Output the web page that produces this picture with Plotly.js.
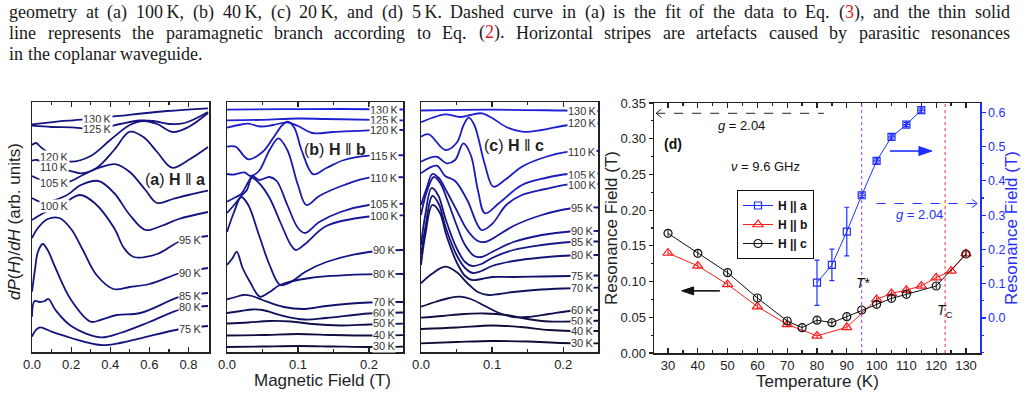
<!DOCTYPE html>
<html><head><meta charset="utf-8">
<script src="https://cdn.plot.ly/plotly-3.0.1.min.js"></script>
<style>html,body{margin:0;padding:0;background:#fff}#chart{width:1027px;height:420px}</style>
</head><body><div id="chart"></div>
<script>
// ---------- (a) H || a : field (T) and dP/dH signal (arb. units) ----------
const a130H=[0,0.18,0.33,0.52,0.69,0.9], a130S=[227.7,231.3,233.7,237.7,241,243.7];
const a125H=[0,0.1,0.2,0.33,0.45,0.55,0.62,0.7,0.78,0.9], a125S=[226.3,225,224.7,223,228,231.5,231,228,229,240];
const a120H=[0,0.02,0.05,0.12,0.2,0.3,0.4,0.5,0.57,0.64,0.72,0.8,0.9], a120S=[207,209,204,195,190.3,196,212,227,231,228,220,225,239];
const a110H=[0,0.024,0.1,0.21,0.25,0.33,0.42,0.5,0.57,0.64,0.716,0.8,0.9], a110S=[191.3,192,186,180.3,178.7,184,202,220.3,215,200,184.3,192,205];
const a105H=[0,0.05,0.18,0.26,0.34,0.43,0.5,0.58,0.64,0.72,0.8,0.9], a105S=[176,172,169.7,177,184,187.7,180,162,149,153,157,161.3];
const a100H=[0,0.05,0.17,0.25,0.34,0.42,0.5,0.58,0.66,0.75,0.9], a100S=[154,150,156,167,171,159,137,122,126,133,140];
const a95H=[0,0.05,0.15,0.246,0.32,0.42,0.47,0.52,0.64,0.76,0.9], a95S=[132,138,147,157,149,124,104,95,98,111,116];
const a90H=[0,0.03,0.08,0.14,0.2,0.26,0.33,0.417,0.5,0.6,0.76,0.9], a90S=[114,124,133,134,123,102,77,63,65,68,79,84];
const a85H=[0,0.015,0.03,0.055,0.08,0.12,0.2,0.3,0.35,0.434,0.554,0.76,0.9], a85S=[60.3,82,100,108,102,84,52,30.3,32,37,39,55.3,59];
const a80H=[0,0.013,0.04,0.065,0.084,0.12,0.2,0.35,0.45,0.6,0.76,0.9], a80S=[35.3,51,50,51,53,42,26,14.7,19,30,42.7,46];
const a75H=[0,0.02,0.041,0.1,0.2,0.35,0.45,0.554,0.76,0.9], a75S=[15.3,22,24.7,20.3,14,7,9,13.7,23,26];

// ---------- (b) H || b ----------
const b130H=[0,0.08,0.16,0.25], b130S=[242.3,242.8,243,242.5];
const b125H=[0,0.05,0.1,0.14,0.25], b125S=[231.7,232.2,233.5,233,231.7];
const b120H=[0,0.02,0.03,0.047,0.065,0.085,0.1,0.12,0.15,0.2,0.25], b120S=[224.3,227.5,228.3,225.5,227,229.7,226,219,220,221.7,222];
const b115H=[0,0.012,0.03,0.05,0.065,0.078,0.0857,0.095,0.105,0.1216,0.14,0.165,0.2,0.25], b115S=[205.3,205.3,192.7,200,214,227,230.3,224,202,177.7,184,192,196.3,196.7];
const b110H=[0,0.01,0.025,0.033,0.045,0.06,0.0725,0.085,0.1,0.112,0.13,0.165,0.2,0.25], b110S=[178,177.5,179.5,176,181,202,213.7,202,167,147,156,167,174.3,174.7];
const b105H=[0,0.01,0.02,0.03,0.036,0.045,0.06,0.07,0.085,0.1,0.11,0.13,0.16,0.2,0.25], b105S=[150.3,154,158,170,176,172,175,171,147,124,119,130,140,147,148];
const b100H=[0,0.01,0.02,0.028,0.035,0.045,0.06,0.075,0.09,0.097,0.11,0.14,0.2,0.25], b100S=[139,147,156,162,174,169,154,130,107,102,108,126,135.5,136.5];
const b90H=[0,0.01,0.02,0.03,0.045,0.06,0.075,0.09,0.11,0.14,0.2,0.25], b90S=[120,140,155,147,117,87,67,70,80,90,100,102];
const b80H=[0,0.008,0.0137,0.022,0.0324,0.0465,0.06,0.0746,0.117,0.2,0.25], b80S=[87,94,100.3,84,70,55.3,60,67,74,77.7,78];
const b70H=[0,0.012,0.023,0.035,0.05,0.08,0.11,0.14,0.2,0.25], b70S=[52.7,55,57,56,52,45,43,46,49.5,50];
const b60H=[0,0.02,0.035,0.05,0.08,0.11,0.14,0.2,0.25], b60S=[39,41,42.5,42,36,32.5,34,38.5,39.5];
const b50H=[0,0.03,0.06,0.09,0.12,0.16,0.2,0.25], b50S=[28.5,29.5,31,30.5,28,26.5,27.5,28.5];
const b40H=[0,0.05,0.1,0.15,0.2,0.25], b40S=[16.5,17,18,17,16.5,17];
const b30H=[0,0.05,0.1,0.15,0.2,0.25], b30S=[5,5.5,6,5.5,5,5.5];

// ---------- (c) H || c ----------
const c130H=[0,0.1,0.2,0.25], c130S=[241.5,242.3,241.5,241];
const c120H=[0,0.015,0.034,0.055,0.07,0.0854,0.1,0.12,0.142,0.17,0.2075,0.25], c120S=[229.7,234,237.7,235,237,238.7,234,225,220.3,222,227,228.5];
const c110H=[0,0.011,0.034,0.05,0.06,0.067,0.075,0.09,0.1018,0.118,0.142,0.175,0.2075,0.25], c110S=[215.3,217.7,202,209,227,234.3,227,187,165.3,172,185.3,195,200.3,201];
const c105H=[0,0.0216,0.036,0.048,0.0596,0.07,0.08,0.0901,0.11,0.142,0.175,0.2075,0.25], c105S=[190.3,195.3,188.7,192,208.7,197,162,138.7,149,167,174,178,178.5];
const c100H=[0,0.022,0.034,0.048,0.065,0.0854,0.1,0.12,0.142,0.175,0.2075,0.25], c100S=[178.7,186.3,176,171,152,122,128,147,157,163,167.7,168];
const c95H=[0,0.008,0.016,0.025,0.035,0.05,0.065,0.08,0.09,0.1,0.13,0.17,0.21,0.25], c95S=[147,164,178,174,162,142,122,111,110,113,126,137,143.5,144.5];
const c90H=[0,0.008,0.018,0.027,0.037,0.05,0.062,0.075,0.085,0.1,0.13,0.17,0.21,0.25], c90S=[137,160,175,169,152,127,107,96,95,100,110,117,120.5,121];
const c85H=[0,0.006,0.015,0.024,0.035,0.05,0.062,0.072,0.085,0.1,0.13,0.17,0.21,0.25], c85S=[107,137,164,157,132,104,90,86,88,94,102,107,110,110.5];
const c80H=[0,0.006,0.016,0.025,0.035,0.05,0.062,0.073,0.085,0.1,0.13,0.17,0.21,0.25], c80S=[97,124,156,148,124,97,84,79,81,86,91,94.5,96.5,97];
const c75H=[0,0.006,0.016,0.026,0.036,0.05,0.062,0.072,0.085,0.1,0.13,0.17,0.21,0.25], c75S=[87,117,147,140,116,90,76,72,73,75,75,75.5,76,76.5];
const c70H=[0,0.015,0.034,0.05,0.065,0.08,0.095,0.11,0.13,0.16,0.2,0.25], c70S=[68.7,78,85.3,80,69,60,57,58,60,62,63.5,64.3];
const c60H=[0,0.02,0.04,0.055,0.07,0.09,0.11,0.13,0.15,0.18,0.21,0.25], c60S=[45.3,50,54,55.3,53,46,39,35,35,38,41,42];
const c50H=[0,0.03,0.06,0.09,0.12,0.15,0.18,0.21,0.25], c50S=[34.3,36,38,38.5,37,33,30.5,30.5,31.3];
const c40H=[0,0.05,0.1,0.14,0.18,0.21,0.25], c40S=[23,24.5,26.5,25,22,21,21];
const c30H=[0,0.05,0.1,0.15,0.2,0.25], c30S=[8.7,10,11,10.5,9,8.7];

// ---------- (d) resonance field vs temperature ----------
const tempA=[80,85,90,95,100,105,110,115];
const fieldA=[0.103,0.155,0.252,0.358,0.458,0.528,0.564,0.606];
const errA=[0.066,0.046,0.071,0.006,0.006,0.006,0.006,0.006];
const tempB=[30,40,50,60,70,80,90,100,105,110,115,120,125,130];
const fieldB=[0.140,0.122,0.096,0.065,0.040,0.024,0.036,0.075,0.0835,0.088,0.094,0.1055,0.115,0.139];
const tempC=[30,40,50,60,70,75,80,85,90,95,100,105,110,120,130];
const fieldC=[0.1676,0.1395,0.1125,0.077,0.0448,0.0355,0.046,0.0424,0.0508,0.0602,0.0681,0.0765,0.0821,0.0938,0.1386];
const tStar=95, tCurie=123, gLeft=0.3356, gRight=0.334;
const tempTicks=[30,40,50,60,70,80,90,100,110,120,130];
const rightTicks=[0,0.1,0.2,0.3,0.4,0.5,0.6];

// caption lines (justified between the text margins)
const capLine1=['geometry','at','(a)','100\u2009K,','(b)','40\u2009K,','(c)','20\u2009K,','and','(d)','5\u2009K.','Dashed','curve','in','(a)','is','the','fit','of','the','data','to','Eq.','(3),','and','the','thin','solid'];
const capLine2=['line','represents','the','paramagnetic','branch','according','to','Eq.','(2).','Horizontal','stripes','are','artefacts','caused','by','parasitic','resonances'];
const capLine3=['in','the','coplanar','waveguide.'];

const FONT='"Liberation Sans", Arial, sans-serif';
const SERIF='"Liberation Serif", "DejaVu Serif", serif';
const W=1027, H=420;
const X=p=>p/W, Y=p=>1-p/H;
const BLUE='#1f2fff';

const traces=[];
function spectrum(hArr,sArr,ax,color){
  traces.push({type:'scatter',mode:'lines',x:hArr,y:sArr,xaxis:'x'+ax,yaxis:'y'+ax,
    line:{shape:'spline',smoothing:1,color:color,width:1.8},showlegend:false,hoverinfo:'skip'});
}
const navy='#14147e';
[[a130H,a130S],[a125H,a125S],[a120H,a120S],[a110H,a110S],[a105H,a105S],[a100H,a100S],
 [a95H,a95S],[a90H,a90S],[a85H,a85S],[a80H,a80S],[a75H,a75S]].forEach(c=>spectrum(c[0],c[1],'',navy));
const bSet=[[b130H,b130S],[b125H,b125S],[b120H,b120S],[b115H,b115S],[b110H,b110S],[b105H,b105S],[b100H,b100S],
 [b90H,b90S],[b80H,b80S],[b70H,b70S],[b60H,b60S],[b50H,b50S],[b40H,b40S],[b30H,b30S]];
const cSet=[[c130H,c130S],[c120H,c120S],[c110H,c110S],[c105H,c105S],[c100H,c100S],[c95H,c95S],[c90H,c90S],
 [c85H,c85S],[c80H,c80S],[c75H,c75S],[c70H,c70S],[c60H,c60S],[c50H,c50S],[c40H,c40S],[c30H,c30S]];
const shade=['#2020dc','#1f1fd4','#1d1dca','#1b1bbd','#1a1ab0','#1818a2','#171795','#151588','#14147a','#12126b','#11115c','#10104e','#0f0f42','#0e0e38','#0d0d30'];
bSet.forEach((c,i)=>spectrum(c[0],c[1],'2',shade[i]));
cSet.forEach((c,i)=>spectrum(c[0],c[1],'3',shade[i]));

// (d) series
traces.push({type:'scatter',mode:'lines+markers',name:'<b>H || a</b>',x:tempA,y:fieldA,xaxis:'x4',yaxis:'y5',
  line:{color:BLUE,width:1},
  marker:{symbol:['square-open','square-open','square-open','square-cross-open','square-cross-open','square-cross-open','square-cross-open','square-cross-open'],size:7,color:BLUE,line:{width:1.2}},
  error_y:{type:'data',array:errA,visible:true,color:BLUE,thickness:1.2,width:2.5},hoverinfo:'skip'});
traces.push({type:'scatter',mode:'lines+markers',name:'<b>H || b</b>',x:tempB,y:fieldB,xaxis:'x4',yaxis:'y4',
  line:{color:'#ff1a1a',width:1},marker:{symbol:'triangle-up-open',size:9,color:'#ff1a1a',line:{width:1.2}},
  error_y:{type:'constant',value:0.004,visible:true,color:'#ff1a1a',thickness:1,width:0},hoverinfo:'skip'});
traces.push({type:'scatter',mode:'lines+markers',name:'<b>H || c</b>',x:tempC,y:fieldC,xaxis:'x4',yaxis:'y4',
  line:{color:'#111',width:1},marker:{symbol:'circle-open',size:8,color:'#111',line:{width:1.2}},
  error_y:{type:'constant',value:0.0045,visible:true,color:'#111',thickness:1,width:0},hoverinfo:'skip'});

const tickFont={family:FONT,size:13,color:'#222'};
function fieldAxis(dom,range,vals,text){
  return {domain:dom,range:range,tickvals:vals,ticktext:text,ticks:'inside',ticklen:5,tickwidth:1.2,tickcolor:'#222',
    minor:{ticks:'inside',ticklen:3,dtick:(vals[1]-vals[0])/2,tick0:0,tickcolor:'#222'},
    showline:true,linecolor:'#222',linewidth:1.5,mirror:'ticks',showgrid:false,zeroline:false,tickfont:tickFont,fixedrange:true};
}
function sigAxis(dom,anchor){
  return {domain:dom,range:[0,250],showticklabels:false,ticks:'',showline:true,linecolor:'#222',linewidth:1.5,mirror:true,
    showgrid:false,zeroline:false,anchor:anchor,fixedrange:true};
}
const yDomABC=[Y(352),Y(102)];
const layout={
  width:W,height:H,margin:{l:0,r:0,t:0,b:0},paper_bgcolor:'#fff',plot_bgcolor:'rgba(0,0,0,0)',
  font:{family:FONT,color:'#222'},showlegend:true,
  xaxis:Object.assign(fieldAxis([X(32),X(209)],[0,0.905],[0,0.2,0.4,0.6,0.8],['0.0','0.2','0.4','0.6','0.8']),{anchor:'y'}),
  yaxis:sigAxis(yDomABC,'x'),
  xaxis2:Object.assign(fieldAxis([X(227),X(403)],[0,0.248],[0,0.1,0.2],['0.0','0.1','0.2']),{anchor:'y2'}),
  yaxis2:sigAxis(yDomABC,'x2'),
  xaxis3:Object.assign(fieldAxis([X(421),X(598)],[0,0.249],[0,0.1,0.2],['0.0','0.1','0.2']),{anchor:'y3'}),
  yaxis3:sigAxis(yDomABC,'x3'),
  xaxis4:{domain:[X(654),X(980)],range:[25.3,134.7],tickvals:tempTicks,ticks:'inside',ticklen:5,tickwidth:1.2,tickcolor:'#222',
    minor:{ticks:'inside',ticklen:3,dtick:5,tick0:25},showline:true,linecolor:'#222',linewidth:1.5,mirror:'ticks',
    showgrid:false,zeroline:false,tickfont:tickFont,anchor:'y4',fixedrange:true},
  yaxis4:{domain:[Y(353),Y(103)],range:[0,0.35],dtick:0.05,tick0:0,tickformat:'.2f',ticks:'outside',ticklen:4,tickwidth:1.2,tickcolor:'#222',
    minor:{ticks:'outside',ticklen:2,dtick:0.025},showline:true,linecolor:'#222',linewidth:1.5,showgrid:false,zeroline:false,
    tickfont:tickFont,anchor:'x4',fixedrange:true},
  yaxis5:{overlaying:'y4',side:'right',anchor:'x4',range:[-0.102,0.627],tickvals:rightTicks,tickformat:'.1f',ticks:'outside',ticklen:4,
    tickwidth:1.2,tickcolor:BLUE,minor:{ticks:'outside',ticklen:2,dtick:0.05,tickcolor:BLUE},showline:true,linecolor:BLUE,linewidth:1.5,
    showgrid:false,zeroline:false,tickfont:{family:FONT,size:12.5,color:BLUE},fixedrange:true},
  legend:{x:X(737),y:Y(190),xanchor:'left',yanchor:'top',bgcolor:'#fff',bordercolor:'#111',borderwidth:1,
    font:{family:FONT,size:12,color:'#111'},tracegroupgap:0,itemwidth:30},
  shapes:[
    {type:'line',xref:'x4',yref:'y4 domain',x0:tStar,x1:tStar,y0:0,y1:1,line:{color:'#9a3cf0',width:1,dash:'dot'}},
    {type:'line',xref:'x4',yref:'y4 domain',x0:tCurie,x1:tCurie,y0:0,y1:1,line:{color:'#ff2a2a',width:1,dash:'dot'}},
    // g = 2.04 markers (dashed pointers to the axes)
    {type:'line',xref:'x4',yref:'y4',x0:26,x1:82.3,y0:gLeft,y1:gLeft,line:{color:'#222',width:1,dash:'dash'}},
    {type:'path',xref:'x4',yref:'y4',path:`M 27.8 ${gLeft+0.006} L 26 ${gLeft} L 27.8 ${gLeft-0.006}`,line:{color:'#222',width:1}},
    {type:'line',xref:'x4',yref:'y5',x0:100,x1:133.7,y0:gRight,y1:gRight,line:{color:BLUE,width:1.2,dash:'dash'}},
    {type:'path',xref:'x4',yref:'y5',path:`M 132 ${gRight+0.012} L 133.8 ${gRight} L 132 ${gRight-0.012}`,line:{color:BLUE,width:1}},
    // axis-direction arrows
    {type:'line',xref:'x4',yref:'y4',x0:38.3,x1:47.4,y0:0.087,y1:0.087,line:{color:'#111',width:1.6}},
    {type:'path',xref:'x4',yref:'y4',path:'M 34.6 0.087 L 38.6 0.0926 L 38.6 0.0814 Z',fillcolor:'#111',line:{color:'#111',width:1}},
    {type:'line',xref:'x4',yref:'y5',x0:104.5,x1:114.4,y0:0.487,y1:0.487,line:{color:BLUE,width:1.6}},
    {type:'path',xref:'x4',yref:'y5',path:'M 118.6 0.487 L 114.2 0.5 L 114.2 0.474 Z',fillcolor:BLUE,line:{color:BLUE,width:1}}
  ],
  annotations:[]
};
const ann=layout.annotations;
function txt(x,y,t,opt){ann.push(Object.assign({xref:'paper',yref:'paper',x:X(x),y:Y(y),text:t,showarrow:false,
  xanchor:'center',yanchor:'middle',font:{family:FONT,size:13,color:'#222'}},opt||{}));}

// justified caption: measure each word, spread the rest over the gaps
const capSize=18;
const ctx=document.createElement('canvas').getContext('2d');
ctx.font=capSize+'px "Liberation Serif"';
const serif={family:SERIF,size:capSize,color:'#1a1a1a'};
function capWord(w){return w.replace('(3)','(<span style="color:#e8141a">3</span>)').replace('(2)','(<span style="color:#e8141a">2</span>)');}
function justified(words,left,right,y){
  const widths=words.map(w=>ctx.measureText(w).width);
  const total=widths.reduce((s,v)=>s+v,0);
  const gap=(right-left-total)/(words.length-1);
  let x=left;
  words.forEach((w,i)=>{txt(x,y,capWord(w),{xanchor:'left',font:serif});x+=widths[i]+gap;});
}
function ragged(words,left,y){
  const sp=ctx.measureText(' ').width;
  let x=left;
  words.forEach(w=>{txt(x,y,w,{xanchor:'left',font:serif});x+=ctx.measureText(w).width+sp;});
}
justified(capLine1,7,1008,12);
justified(capLine2,7,1008,33);
ragged(capLine3,7,54);

// axis titles
txt(14,222,'<i>dP</i>(<i>H</i>)/<i>dH</i> (arb. units)',{textangle:-90,font:{family:FONT,size:17,color:'#222'}});
txt(322,380,'Magnetic Field (T)',{font:{family:FONT,size:17,color:'#222'}});
txt(817,381,'Temperature (K)',{font:{family:FONT,size:17,color:'#222'}});
txt(612,228,'Resonance Field (T)',{textangle:-90,font:{family:FONT,size:17,color:'#222'}});
txt(1012,228,'Resonance Field (T)',{textangle:-90,font:{family:FONT,size:17,color:BLUE}});

// panel tags
txt(175,179,'(<b>a</b>) <b>H</b> \u2016 <b>a</b>',{font:{family:FONT,size:16,color:'#222'}});
txt(335,149,'(<b>b</b>) <b>H</b> \u2016 <b>b</b>',{font:{family:FONT,size:16,color:'#222'}});
txt(514,145,'(<b>c</b>) <b>H</b> \u2016 <b>c</b>',{font:{family:FONT,size:16,color:'#222'}});

// temperature labels on the spectra
const lab={family:FONT,size:11,color:'#333'};
function tag(x,y,t){txt(x,y,t,{bgcolor:'#fff',borderpad:0,font:lab});}
const aLabels=[[97,119,'130 K'],[97,129,'125 K'],[54,157,'120 K'],[54,167,'110 K'],[54,183,'105 K'],[54,206,'100 K'],
 [190,240,'95 K'],[190,273,'90 K'],[190,296,'85 K'],[190,307,'80 K'],[190,329,'75 K']];
const bLabels=[[384,110,'130 K'],[384,120,'125 K'],[384,130,'120 K'],[384,156,'115 K'],[384,178,'110 K'],[384,204,'105 K'],
 [384,216,'100 K'],[384,250,'90 K'],[384,274,'80 K'],[384,302,'70 K'],[384,313,'60 K'],[384,323,'50 K'],[384,335,'40 K'],[384,346,'30 K']];
const cLabels=[[582,111,'130 K'],[582,123,'120 K'],[582,152,'110 K'],[582,175,'105 K'],[582,185,'100 K'],[582,208,'95 K'],
 [582,231,'90 K'],[582,242,'85 K'],[582,255,'80 K'],[582,276,'75 K'],[582,288,'70 K'],[582,310,'60 K'],[582,321,'50 K'],[582,331,'40 K'],[582,343,'30 K']];
aLabels.concat(bLabels,cLabels).forEach(l=>tag(l[0],l[1],l[2].replace(' ','\u2009')));

// panel (d) texts
txt(673,144,'<b>(d)</b>',{font:{family:FONT,size:14,color:'#111'}});
txt(765,167,'<i>\u03bd</i> = 9.6 GHz',{font:{family:FONT,size:13,color:'#111'}});
txt(741,125,'<i>g</i> = 2.04',{font:{family:FONT,size:13,color:'#111'}});
txt(919,215,'<i>g</i> = 2.04',{font:{family:FONT,size:13,color:BLUE}});
txt(863,283,'<i>T</i>*',{font:{family:FONT,size:14,color:'#111'}});
txt(945,311,'<i>T</i><sub>C</sub>',{font:{family:FONT,size:14,color:'#111'}});

Plotly.newPlot('chart',traces,layout,{staticPlot:true,displayModeBar:false});
</script></body></html>
